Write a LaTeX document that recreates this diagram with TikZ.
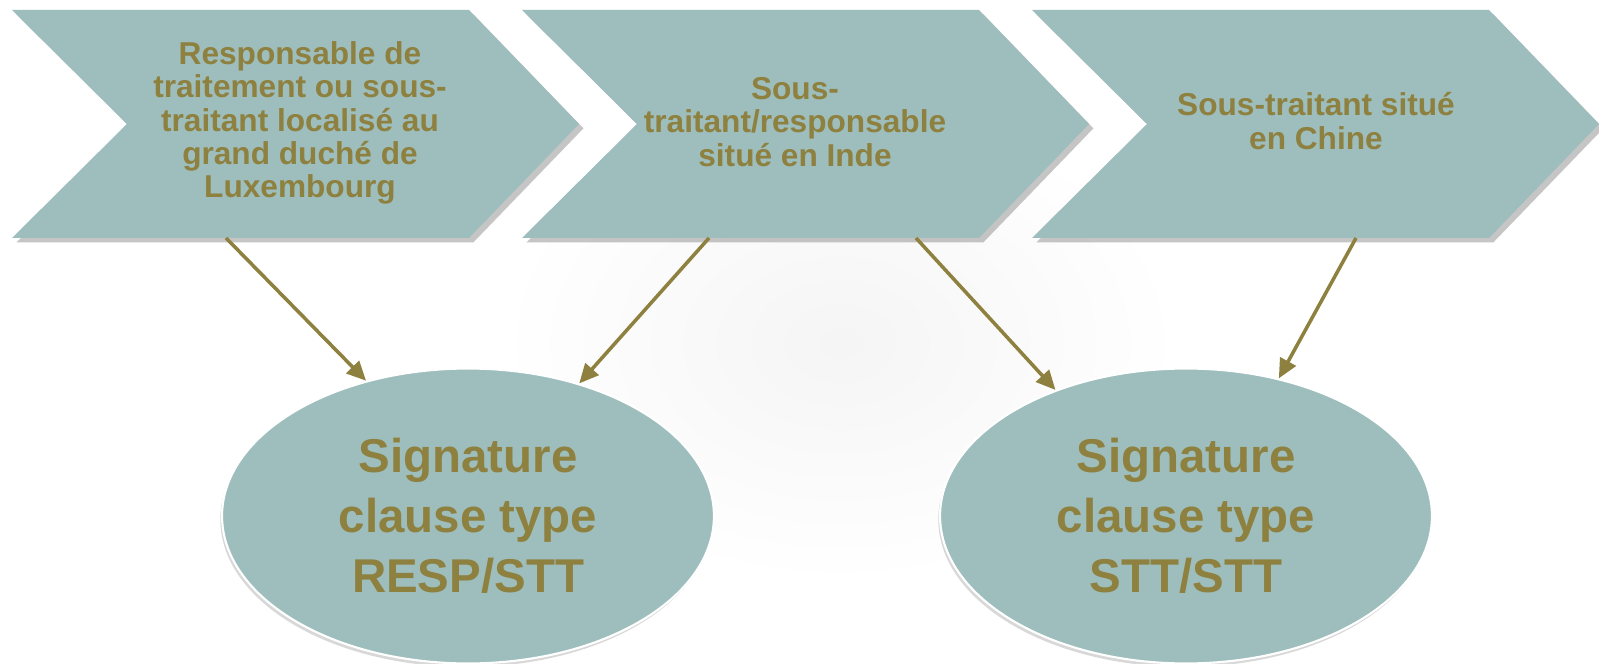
\documentclass[tikz,border=0pt]{standalone}
\usepackage{fontspec}
\setmainfont{Liberation Sans}
\usetikzlibrary{arrows.meta, positioning, shapes.geometric, shadows}

\definecolor{chevfill}{RGB}{157,190,189}
\definecolor{olivetext}{RGB}{142,128,62}

\begin{document}
\begin{tikzpicture}[x=0.02cm, y=0.02cm,
    chevron/.style={fill=chevfill, drop shadow={shadow xshift=2.5pt, shadow yshift=-2.5pt, opacity=0.45}},
    steptext/.style={text=olivetext, font=\bfseries\fontsize{18}{19}\selectfont, align=center},
    sigellipse/.style={ellipse, fill=chevfill, draw=white, line width=1.2pt,
        minimum width=9.84cm, minimum height=5.9cm, inner sep=0pt,
        text=olivetext, font=\bfseries\fontsize{27}{34}\selectfont, align=center,
        drop shadow={shadow xshift=-1pt, shadow yshift=-2pt, opacity=0.3}},
    link/.style={draw=olivetext, line width=2pt, -{Triangle[length=11pt, width=10pt]}}]
        % Page
        \fill[white] (0,0) rectangle (1599,663);
        \useasboundingbox (0,0) rectangle (1599,663);
        \shade[inner color=gray!8, outer color=white] (840,320) ellipse (340 and 240);

        % Chevrons
        \foreach \x in {12, 522, 1032}
            \fill[chevron] (\x,653) -- ++(457,0) -- ++(110,-114) -- ++(-110,-114) -- ++(-457,0) -- ++(115,114) -- cycle;

        \node[steptext] (resp) at (300,540) {Responsable de\\traitement ou sous-\\traitant localisé au\\grand duché de\\Luxembourg};
        \node[steptext] (inde) at (795,541) {Sous-\\traitant/responsable\\situé en Inde};
        \node[steptext] (chine) at (1316,542) {Sous-traitant situé\\en Chine};

        % Signatures
        \node[sigellipse] (respstt) at (468,147) {Signature\\clause type\\RESP/STT};
        \node[sigellipse] (sttstt) at (1186,147) {Signature\\clause type\\STT/STT};

        % Links
        \coordinate (r1) at (226,425);
        \coordinate (r2) at (709,425);
        \coordinate (r3) at (916,425);
        \coordinate (r4) at (1356,425);
        \draw[link] (r1) -- (respstt.127);
        \draw[link] (r2) -- (respstt.50);
        \draw[link] (r3) -- (sttstt.136);
        \draw[link] (r4) -- (sttstt.56);
    \end{tikzpicture}
\end{document}
